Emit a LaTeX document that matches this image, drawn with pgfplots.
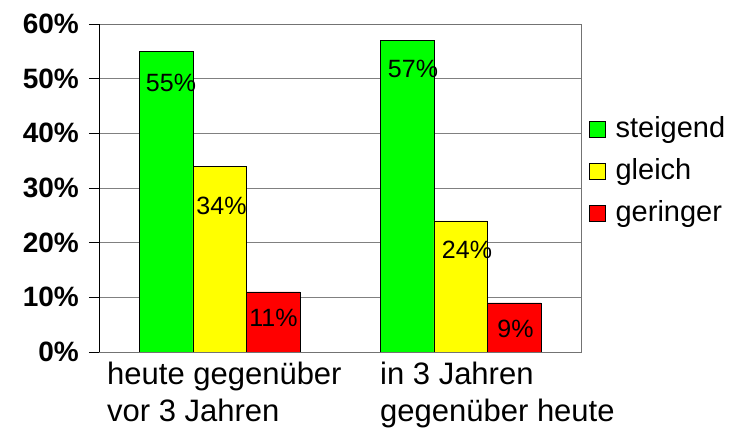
\documentclass[border=0pt]{standalone}
\usepackage{pgfplots}
\usepackage{pgfplotstable}
\pgfplotsset{compat=1.18}
\usepackage{fontspec}
\setmainfont{Liberation Sans}

\definecolor{barGreen}{RGB}{0,255,0}
\definecolor{barYellow}{RGB}{255,255,0}
\definecolor{barRed}{RGB}{255,0,0}

% x: category, y: share in percent, dx/dy: offset of the value label from the bar top
\pgfplotstableread{
x y dx dy
0 55 5 -32
1 57 6 -29
}\steigend
\pgfplotstableread{
x y dx dy
0 34 2 -40
1 24 6.5 -29
}\gleich
\pgfplotstableread{
x y dx dy
0 11 0.5 -26
1 9 1.5 -26
}\geringer

\begin{document}
\begin{tikzpicture}
\useasboundingbox (0,0) rectangle (739bp,429bp);
\begin{axis}[
  at={(99bp,77bp)}, anchor=south west,
  width=482bp, height=328bp, scale only axis,
  xmin=-0.5, xmax=1.5, ymin=0, ymax=60,
  ybar, bar width=0.222,
  axis line style={draw=black!55, line width=0.8pt},
  ymajorgrids, major grid style={black!50, line width=0.8pt},
  ytick={0,10,...,60},
  yticklabel={\pgfmathprintnumber{\tick}\%},
  /pgf/number format/assume math mode=true,
  tick align=outside, major tick length=10bp, ytick pos=left,
  ytick style={black, line width=0.8pt},
  yticklabel style={font=\fontsize{28bp}{32bp}\selectfont\bfseries, inner sep=0pt, xshift=-10bp},
  xtick={0}, xticklabels={heute gegenüber\\vor 3 Jahren},
  extra x ticks={1}, extra x tick labels={in 3 Jahren\\gegenüber heute},
  xtick style={draw=none},
  xticklabel style={font=\fontsize{31bp}{37bp}\selectfont, align=left, anchor=north west,
    inner sep=0pt, xshift=-112.5bp, yshift=0bp},
  extra x tick style={tick style={draw=none},
    xticklabel style={xshift=32bp}},
  visualization depends on={\thisrow{dx} \as \labdx},
  visualization depends on={\thisrow{dy} \as \labdy},
  nodes near coords={\pgfmathprintnumber{\pgfplotspointmeta}\%},
  nodes near coords style={font=\fontsize{25bp}{30bp}\selectfont, anchor=center,
    xshift=\labdx bp, yshift=\labdy bp, text=black},
  legend style={at={(1.0166,0.72)}, anchor=north west, draw=none, fill=none,
    font=\fontsize{29bp}{34bp}\selectfont, row sep=15bp, inner sep=0pt,
    nodes={text height=21bp, text depth=6bp, inner sep=0pt}},
  legend cell align=left,
  legend image code/.code={\draw[#1, draw=black] (0bp,-8bp) rectangle (16bp,8bp);},
  /tikz/every odd column/.style={column sep=10bp},
]
\addplot[fill=barGreen, draw=black, bar shift=-0.222] table[x=x, y=y] {\steigend};
\addplot[fill=barYellow, draw=black, bar shift=0] table[x=x, y=y] {\gleich};
\addplot[fill=barRed, draw=black, bar shift=0.222] table[x=x, y=y] {\geringer};
\legend{steigend, gleich, geringer}
\draw[black, line width=0.8pt] (rel axis cs:0,1) -- (rel axis cs:0,0) -- (rel axis cs:1,0);
\end{axis}
\end{tikzpicture}
\end{document}
